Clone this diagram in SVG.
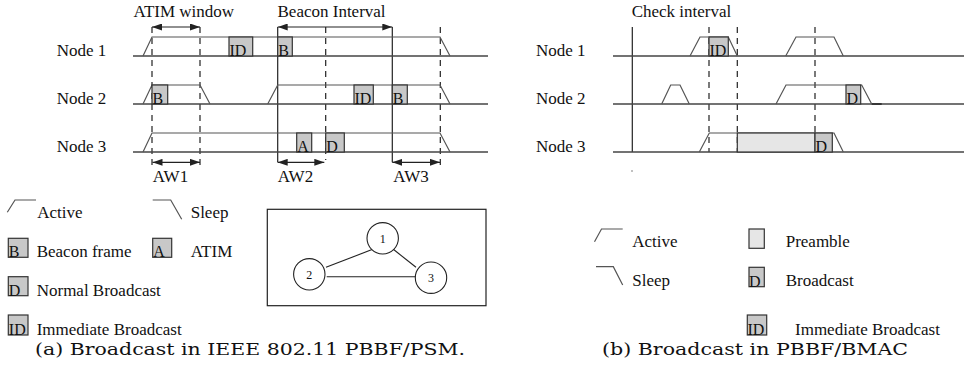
<svg xmlns="http://www.w3.org/2000/svg" width="964" height="373" viewBox="0 0 964 373">
<style>
text{font-family:"Liberation Serif","Times New Roman",serif;fill:#111}
.lbl{font-size:17px}
.bx{font-size:16px}
.sm{font-size:12px}
.cap{font-family:"DejaVu Serif","Liberation Serif",serif;font-size:17px}
.base{stroke:#444;stroke-width:1.3;fill:none}
.pulse{stroke:#555;stroke-width:1.2;fill:none}
.box{fill:#c8c8c8;stroke:#333;stroke-width:1.2}
.pre{fill:#e6e6e6;stroke:#333;stroke-width:1.2}
.dash{stroke:#222;stroke-width:1.2;stroke-dasharray:6 5;fill:none}
.solid{stroke:#222;stroke-width:1.2;fill:none}
.arr{stroke:#222;stroke-width:1.2;fill:none;marker-start:url(#ah);marker-end:url(#ah)}
.edge{stroke:#222;stroke-width:1.1;fill:none}
.circ{fill:#fff;stroke:#222;stroke-width:1.1}
</style>
<defs>
<marker id="ah" viewBox="0 0 10 7" refX="10" refY="3.5" markerWidth="10" markerHeight="7" markerUnits="userSpaceOnUse" orient="auto-start-reverse">
<path d="M0,0 L10,3.5 L0,7 z" fill="#222"/>
</marker>
</defs>
<rect width="964" height="373" fill="#fff"/>

<!-- Panel (a) -->
<g id="panel-a">
  <text class="lbl" x="133.5" y="17">ATIM window</text>
  <text class="lbl" x="277.5" y="17">Beacon Interval</text>
  <g id="a-guides">
    <line class="dash" x1="152" y1="27" x2="152" y2="165"/>
    <line class="dash" x1="200" y1="27" x2="200" y2="165"/>
    <line class="dash" x1="325.7" y1="27" x2="325.7" y2="160"/>
    <line class="dash" x1="440.3" y1="27" x2="440.3" y2="165"/>
    <line class="solid" x1="277.7" y1="27" x2="277.7" y2="162.3"/>
    <line class="solid" x1="392.3" y1="27" x2="392.3" y2="162.3"/>
    <line class="arr" x1="152" y1="27" x2="200" y2="27"/>
    <line class="arr" x1="277.7" y1="27" x2="392.3" y2="27"/>
    <line class="arr" x1="152.5" y1="162.3" x2="200" y2="162.3"/>
    <line class="arr" x1="277.7" y1="162.3" x2="324.3" y2="162.3"/>
    <line class="arr" x1="392.3" y1="162.3" x2="440" y2="162.3"/>
  </g>
  <text class="lbl" x="152.7" y="181.7">AW1</text>
  <text class="lbl" x="277.7" y="181.7">AW2</text>
  <text class="lbl" x="393.3" y="181.7">AW3</text>

  <g id="a-node1">
    <text class="lbl" x="56.7" y="56">Node 1</text>
    <line class="base" x1="133" y1="56" x2="488" y2="56"/>
    <polyline class="pulse" points="143,56 152,37 440,37 450,56"/>
    <rect class="box" x="229" y="37" width="23.7" height="19"/>
    <text class="bx" x="229.5" y="56">ID</text>
    <rect class="box" x="277.7" y="37" width="14.6" height="19"/>
    <text class="bx" x="278.2" y="56">B</text>
  </g>
  <g id="a-node2">
    <text class="lbl" x="56.7" y="104">Node 2</text>
    <line class="base" x1="133" y1="104" x2="488" y2="104"/>
    <polyline class="pulse" points="143,104 152,85 200,85 210,104"/>
    <polyline class="pulse" points="267.7,104 277.7,85 440,85 450,104"/>
    <rect class="box" x="152" y="85" width="15.7" height="19"/>
    <text class="bx" x="152.5" y="104">B</text>
    <rect class="box" x="354" y="85" width="19.3" height="19"/>
    <text class="bx" x="354.5" y="104">ID</text>
    <rect class="box" x="392.3" y="85" width="15" height="19"/>
    <text class="bx" x="392.8" y="104">B</text>
  </g>
  <g id="a-node3">
    <text class="lbl" x="56.7" y="152">Node 3</text>
    <line class="base" x1="133" y1="152" x2="488" y2="152"/>
    <polyline class="pulse" points="143,152 152,133 440,133 450,152"/>
    <rect class="box" x="296.7" y="133" width="15" height="19"/>
    <text class="bx" x="297.2" y="152">A</text>
    <rect class="box" x="325.7" y="133" width="18.6" height="19"/>
    <text class="bx" x="326.2" y="152">D</text>
  </g>

  <g id="a-legend">
    <polyline class="pulse" points="7.3,212.3 15,200 36,200"/>
    <text class="lbl" x="37.3" y="218.3">Active</text>
    <polyline class="pulse" points="152.7,200 170.7,200 181.7,219.3"/>
    <text class="lbl" x="190.7" y="218.3">Sleep</text>
    <rect class="box" x="8.3" y="238.3" width="19.7" height="19"/>
    <text class="bx" x="8.8" y="257.3">B</text>
    <text class="lbl" x="36.7" y="257">Beacon frame</text>
    <rect class="box" x="152.7" y="238.3" width="19" height="19"/>
    <text class="bx" x="153.2" y="257.3">A</text>
    <text class="lbl" x="190.7" y="257">ATIM</text>
    <rect class="box" x="8.3" y="276.7" width="19.7" height="19"/>
    <text class="bx" x="8.8" y="295.7">D</text>
    <text class="lbl" x="36.7" y="295.5">Normal Broadcast</text>
    <rect class="box" x="8.3" y="315" width="19.7" height="20"/>
    <text class="bx" x="8.8" y="335">ID</text>
    <text class="lbl" x="36.7" y="335">Immediate Broadcast</text>
  </g>

  <g id="network">
    <rect x="267.3" y="209.3" width="218.7" height="96.4" fill="none" stroke="#222" stroke-width="1.2"/>
    <g id="connectors">
      <line class="edge" x1="326" y1="267.3" x2="372.7" y2="249.3"/>
      <line class="edge" x1="393.3" y1="249.3" x2="416" y2="267.3"/>
      <line class="edge" x1="326.7" y1="276.7" x2="416" y2="276.7"/>
    </g>
    <g id="net-node1">
      <circle class="circ" cx="382.7" cy="238.3" r="15.7"/>
      <text class="sm" x="382.7" y="242.5" text-anchor="middle">1</text>
    </g>
    <g id="net-node2">
      <circle class="circ" cx="309.3" cy="274.3" r="15.7"/>
      <text class="sm" x="309.3" y="278.5" text-anchor="middle">2</text>
    </g>
    <g id="net-node3">
      <circle class="circ" cx="431" cy="277.7" r="15.7"/>
      <text class="sm" x="431" y="281.9" text-anchor="middle">3</text>
    </g>
  </g>

  <text class="cap" x="35" y="355" textLength="430" lengthAdjust="spacingAndGlyphs">(a) Broadcast in IEEE 802.11 PBBF/PSM.</text>
</g>

<!-- Panel (b) -->
<g id="panel-b">
  <text class="lbl" x="631.7" y="17">Check interval</text>
  <g id="b-guides">
    <line class="solid" x1="632.3" y1="27" x2="632.3" y2="152"/>
    <line class="dash" x1="709" y1="27" x2="709" y2="152"/>
    <line class="dash" x1="737.3" y1="27" x2="737.3" y2="152"/>
    <line class="dash" x1="815" y1="27" x2="815" y2="152"/>
    <circle cx="632" cy="171" r="0.7" fill="#555"/>
  </g>
  <g id="b-node1">
    <text class="lbl" x="536" y="56">Node 1</text>
    <line class="base" x1="613" y1="56" x2="964" y2="56"/>
    <polyline class="pulse" points="690,56 700,37 728.3,37 737.3,56"/>
    <rect class="box" x="709" y="37" width="19.3" height="19"/>
    <text class="bx" x="709.5" y="56">ID</text>
    <polyline class="pulse" points="785.7,56 796,37 834,37 843.3,56"/>
  </g>
  <g id="b-node2">
    <text class="lbl" x="536" y="104">Node 2</text>
    <line class="base" x1="613" y1="104" x2="964" y2="104" stroke-width="1.7"/>
    <line x1="871.7" y1="104" x2="881.7" y2="104" stroke="#333" stroke-width="1.9"/>
    <polyline class="pulse" points="661.7,104 670.7,85 680,85 689.3,104"/>
    <polyline class="pulse" points="776,104 786,85 861.7,85 871.7,104"/>
    <rect class="box" x="846" y="85" width="14.7" height="19"/>
    <text class="bx" x="846.5" y="104">D</text>
  </g>
  <g id="b-node3">
    <text class="lbl" x="536" y="152">Node 3</text>
    <line class="base" x1="613" y1="152" x2="964" y2="152"/>
    <polyline class="pulse" points="699.3,152 709.3,133 834,133 843.3,152"/>
    <rect class="pre" x="737.3" y="133" width="77.7" height="19"/>
    <rect class="box" x="815" y="133" width="17.3" height="19"/>
    <text class="bx" x="815.5" y="152">D</text>
  </g>

  <g id="b-legend">
    <polyline class="pulse" points="594.5,241.7 601.5,229 622.7,229"/>
    <text class="lbl" x="632.3" y="247">Active</text>
    <polyline class="pulse" points="596,266.7 613.3,266.7 622.7,285"/>
    <text class="lbl" x="632.3" y="285.7">Sleep</text>
    <rect class="pre" x="749" y="229" width="15.3" height="19.3"/>
    <text class="lbl" x="785.7" y="247">Preamble</text>
    <rect class="box" x="749" y="267.3" width="15.3" height="19.4"/>
    <text class="bx" x="749" y="286.7">D</text>
    <text class="lbl" x="785.7" y="286">Broadcast</text>
    <rect class="box" x="747.3" y="315" width="19.4" height="20"/>
    <text class="bx" x="747.5" y="335">ID</text>
    <text class="lbl" x="795" y="335">Immediate Broadcast</text>
  </g>

  <text class="cap" x="602" y="355" textLength="306" lengthAdjust="spacingAndGlyphs">(b) Broadcast in PBBF/BMAC</text>
</g>
</svg>
